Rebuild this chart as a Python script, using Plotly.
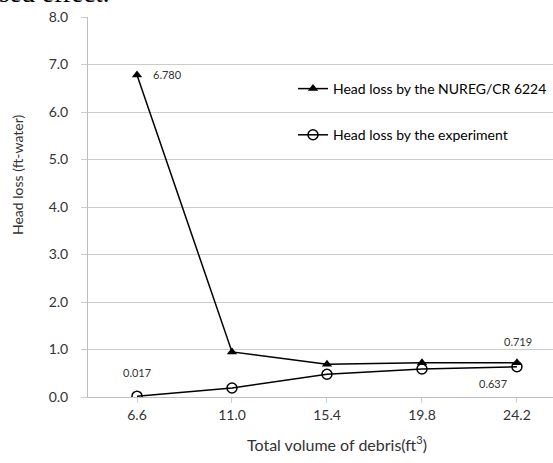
import plotly.graph_objects as go

x_vals = [6.6, 11.0, 15.4, 19.8, 24.2]
x_ticks = ["6.6", "11.0", "15.4", "19.8", "24.2"]
nureg = [6.780, 0.95, 0.69, 0.72, 0.719]
experiment = [0.017, 0.19, 0.48, 0.59, 0.637]
y_ticks = [0, 1, 2, 3, 4, 5, 6, 7, 8]

FONT = "Lato"
GRAY = "#333333"

fig = go.Figure()
fig.add_trace(go.Scatter(
    x=x_vals, y=nureg, mode="lines+markers", name="Head loss by the NUREG/CR 6224",
    line=dict(color="black", width=1.5),
    marker=dict(symbol="triangle-up", size=9, color="black"),
    legendgroup="a"))
fig.add_trace(go.Scatter(
    x=x_vals, y=experiment, mode="lines+markers", name="Head loss by the experiment",
    line=dict(color="black", width=1.5),
    marker=dict(symbol="circle-open", size=10, color="black", line=dict(width=1.5)),
    legendgroup="b"))

labels = [
    (x_vals[0], nureg[0], "6.780", "left", 14, 0),
    (x_vals[0], experiment[0], "0.017", "center", 0, 24),
    (x_vals[4], nureg[4], "0.719", "center", 1, 21),
    (x_vals[4], experiment[4], "0.637", "center", -24, -17),
]
for xv, yv, t, xa, xs, ys in labels:
    fig.add_annotation(x=xv, y=yv, xref="x", yref="y", text=t, showarrow=False,
                       xanchor=xa, yanchor="middle", xshift=xs, yshift=ys,
                       font=dict(family=FONT, size=11, color=GRAY))

plot_w, plot_h = 465, 380
fig.add_annotation(x=(18 - 88) / plot_w, y=(397 - 175) / plot_h, xref="paper", yref="paper",
                   text="Head loss (ft-water)", textangle=-90, showarrow=False,
                   xanchor="center", yanchor="middle",
                   font=dict(family=FONT, size=14, color=GRAY))
fig.add_annotation(x=(337 - 88) / plot_w, y=(397 - 443) / plot_h, xref="paper", yref="paper",
                   text="Total volume of debris(ft<sup>3</sup>)", showarrow=False,
                   xanchor="center", yanchor="middle",
                   font=dict(family=FONT, size=16, color=GRAY))
fig.add_annotation(x=(-3 - 88) / plot_w, y=(397 - 10) / plot_h, xref="paper", yref="paper",
                   text="sed effect.", showarrow=False, xanchor="left", yanchor="bottom",
                   font=dict(family="Liberation Serif", size=27, color="black"))

fig.update_layout(
    width=553, height=463,
    margin=dict(l=88, r=0, t=17, b=66),
    paper_bgcolor="white", plot_bgcolor="white",
    font=dict(family=FONT, size=13, color=GRAY),
    showlegend=True,
    legend=dict(x=(293 - 88) / plot_w, y=(397 - 73) / plot_h, xanchor="left", yanchor="top",
                bgcolor="rgba(0,0,0,0)", tracegroupgap=25,
                font=dict(family=FONT, size=14, color="black")),
    xaxis=dict(range=[4.33, 25.87], tickvals=x_vals, ticktext=x_ticks,
               showgrid=False, zeroline=False, showline=True, linecolor="#bfbfbf",
               ticks="outside", ticklen=5, tickcolor="#d0d0d0",
               tickfont=dict(family=FONT, size=14, color=GRAY)),
    yaxis=dict(range=[0, 8], tickvals=y_ticks, tickformat=".1f",
               showgrid=True, gridcolor="#cccccc", zeroline=False,
               showline=True, linecolor="#bfbfbf",
               ticks="outside", ticklen=6, tickcolor="#cccccc", ticklabelstandoff=10,
               tickfont=dict(family=FONT, size=14, color=GRAY)),
)

fig.write_html("out.html", config={"displayModeBar": False},
               post_script="document.body.style.margin='0';")
